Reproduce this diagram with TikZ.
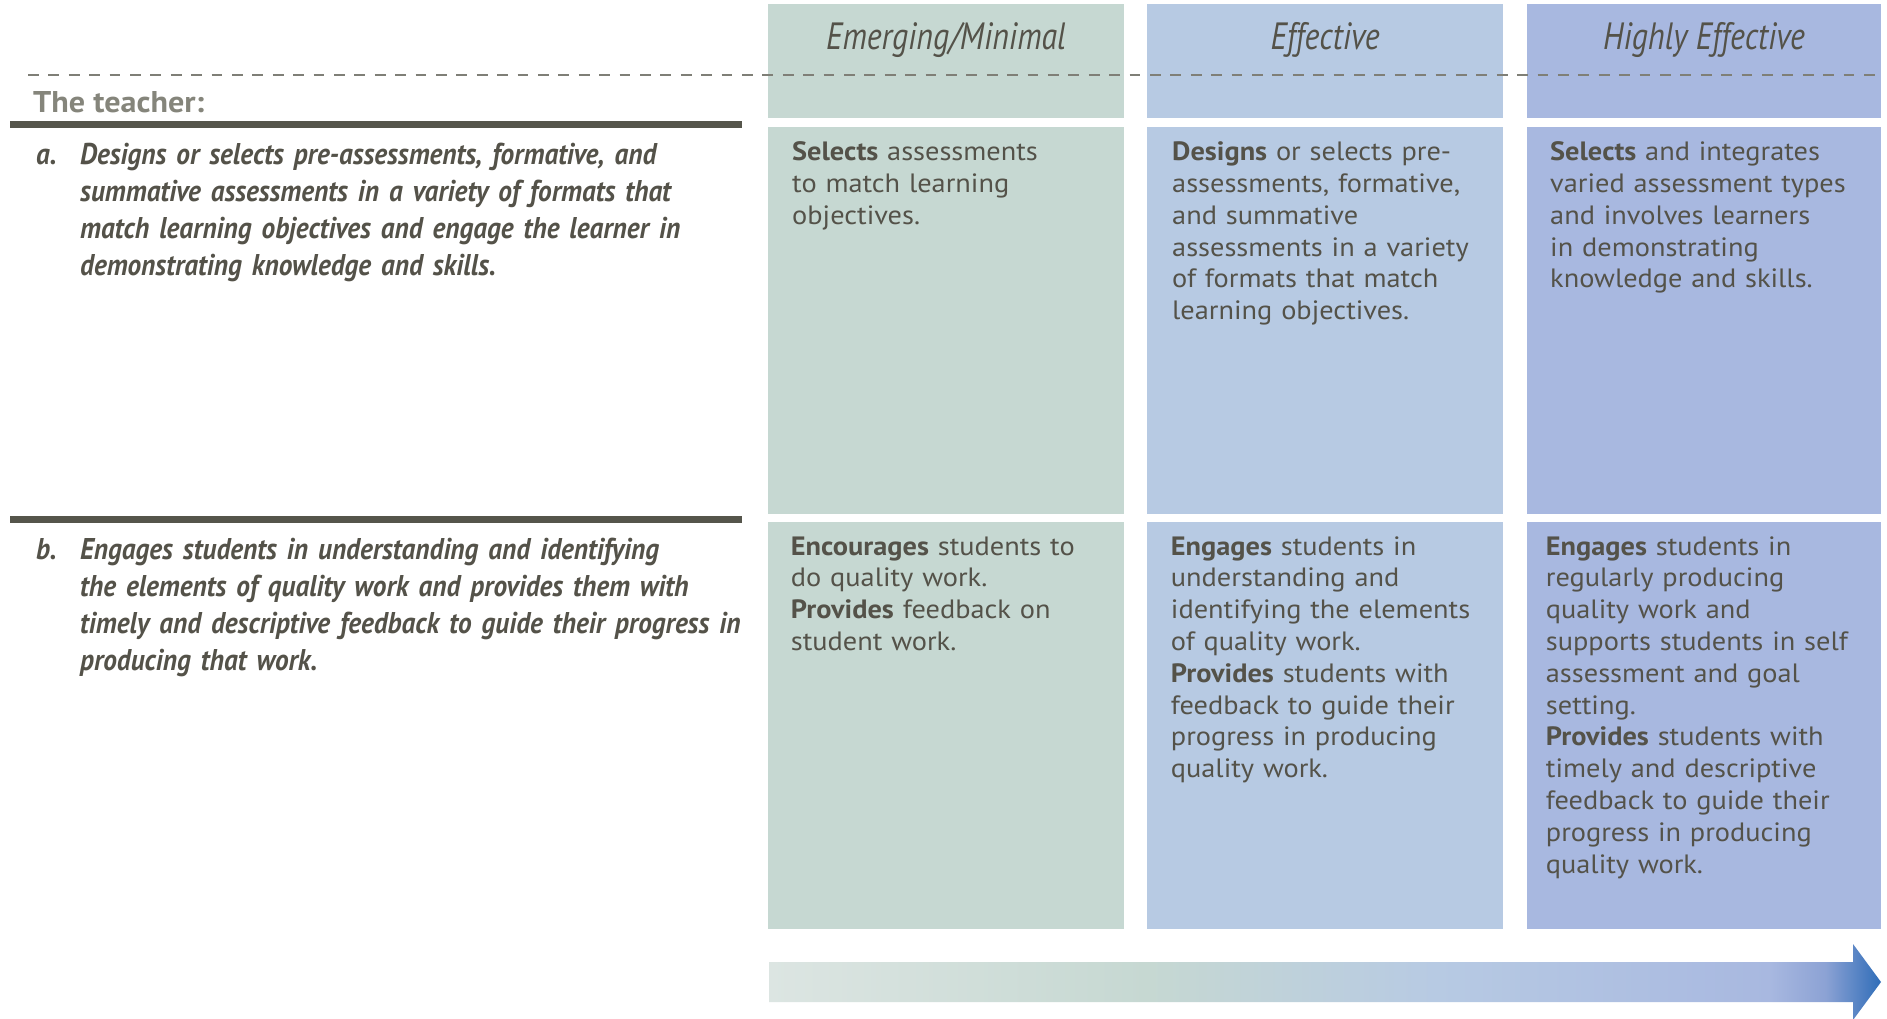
\documentclass[tikz,border=0pt]{standalone}
\usepackage{fontspec}
\setmainfont[FakeStretch=1.07]{PT Sans}
\newfontfamily\condfont[FakeStretch=0.91, WordSpace=0.55]{PT Sans}
\newfontfamily\headfont[FakeStretch=0.84]{PT Sans}

\definecolor{emerging}{HTML}{C6D8D2}
\definecolor{effective}{HTML}{B7CAE3}
\definecolor{highly}{HTML}{A8B8E0}
\definecolor{ink}{HTML}{545249}
\definecolor{rulegray}{HTML}{55554B}
\definecolor{dashgray}{HTML}{7F7F77}
\definecolor{teachgray}{HTML}{85857B}
\definecolor{arrowstart}{HTML}{DCE5E2}
\definecolor{arrowmid}{HTML}{8CA2D4}
\definecolor{arrowtip}{HTML}{2F6DB8}

\pgfdeclarehorizontalshading{progress}{100bp}{color(0bp)=(arrowstart); color(25bp)=(arrowstart); color(42bp)=(emerging); color(55bp)=(effective); color(70bp)=(highly); color(72.5bp)=(arrowmid); color(75bp)=(arrowtip); color(100bp)=(arrowtip)}

\begin{document}
\begin{tikzpicture}[x=1pt, y=-1pt,
    cell/.style={anchor=base west, inner sep=0pt, text width=340pt, align=left, text=ink, font=\fontsize{26.5}{31.8}\selectfont},
    head/.style={anchor=base, inner sep=0pt, text=ink, font=\headfont\itshape\fontsize{38}{40}\selectfont},
    crit/.style={anchor=base west, inner sep=0pt, text width=720pt, align=left, text=ink, font=\condfont\bfseries\itshape\fontsize{30}{37.3}\selectfont}]
    \useasboundingbox (0,0) rectangle (1887,1018);
    \fill[white] (0,0) rectangle (1887,1018);

    % Columns
    \fill[emerging] (768,4) rectangle (1124,118);
    \fill[effective] (1147,4) rectangle (1503,118);
    \fill[highly] (1527,4) rectangle (1881,118);
    \fill[emerging] (768,127) rectangle (1124,514);
    \fill[effective] (1147,127) rectangle (1503,514);
    \fill[highly] (1527,127) rectangle (1881,514);
    \fill[emerging] (768,522) rectangle (1124,929);
    \fill[effective] (1147,522) rectangle (1503,929);
    \fill[highly] (1527,522) rectangle (1881,929);

    % Headings
    \node[head] (hemerg) at (946,49) {Emerging/Minimal};
    \node[head] (heff) at (1325,49) {Effective};
    \node[head] (hhigh) at (1704,49) {Highly Effective};
    \draw[dashgray, line width=2.7pt, dash pattern=on 10.7pt off 9.7pt] (28,75) -- (1881,75);

    % The teacher
    \node[anchor=base west, inner sep=0pt, text=teachgray, font=\bfseries\fontsize{30}{36}\selectfont] (teacher) at (33,112.7) {The teacher:};
    \draw[rulegray, line width=7pt] (10,124.5) -- (742,124.5);
    \draw[rulegray, line width=7pt] (10,519.7) -- (742,519.7);

    % Row a
    \node[crit, text width=40pt] (la) at (36,164) {a.};
    \node[crit] (ta) at (80,164) {Designs or selects pre-assessments, formative, and\\summative assessments in a variety of formats that\\match learning objectives and engage the learner in\\demonstrating knowledge and skills.};
    \node[cell] (a1) at (792,160.7) {\textbf{Selects} assessments\\to match learning\\objectives.};
    \node[cell] (a2) at (1172,160.7) {\textbf{Designs} or selects pre-\\assessments, formative,\\and summative\\assessments in a variety\\of formats that match\\learning objectives.};
    \node[cell] (a3) at (1550,160.7) {\textbf{Selects} and integrates\\varied assessment types\\and involves learners\\in demonstrating\\knowledge and skills.};

    % Row b
    \node[crit, text width=40pt] (lb) at (36,559) {b.};
    \node[crit] (tb) at (80,559) {Engages students in understanding and identifying\\the elements of quality work and provides them with\\timely and descriptive feedback to guide their progress in\\producing that work.};
    \node[cell] (b1) at (790.7,555) {\textbf{Encourages} students to\\do quality work.\\\textbf{Provides} feedback on\\student work.};
    \node[cell] (b2) at (1170.7,555) {\textbf{Engages} students in\\understanding and\\identifying the elements\\of quality work.\\\textbf{Provides} students with\\feedback to guide their\\progress in producing\\quality work.};
    \node[cell] (b3) at (1545.7,555) {\textbf{Engages} students in\\regularly producing\\quality work and\\supports students in self\\assessment and goal\\setting.\\\textbf{Provides} students with\\timely and descriptive\\feedback to guide their\\progress in producing\\quality work.};

    % Arrow
    \shade[shading=progress] (769,962) -- (1853,962) -- (1853,944) -- (1881,982) -- (1853,1020) -- (1853,1002) -- (769,1002) -- cycle;
\end{tikzpicture}
\end{document}
